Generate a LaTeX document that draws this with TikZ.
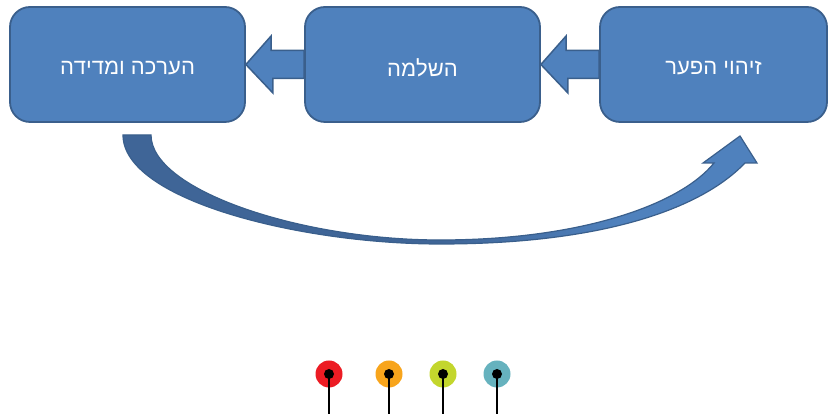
\documentclass[tikz,border=0pt]{standalone}
\usepackage{fontspec}
\setmainfont{Liberation Sans}
\TeXXeTstate=1
\usetikzlibrary{calc}
\definecolor{boxfill}{HTML}{4F81BD}
\definecolor{boxline}{HTML}{3A5F8C}
\definecolor{darkfill}{HTML}{3F6597}
\definecolor{dotred}{HTML}{EC1C24}
\definecolor{dotorange}{HTML}{F8A51C}
\definecolor{dotgreen}{HTML}{C3D62D}
\definecolor{dotteal}{HTML}{66B2BE}
\tikzset{
  stagebox/.style={draw=boxline, line width=1.8pt, fill=boxfill, rounded corners=20pt,
    minimum height=115pt, inner sep=0pt},
  stagetext/.style={text=white, font=\fontsize{22}{26}\selectfont, inner sep=0pt},
  blockarrow/.style={draw=boxline, line width=1.5pt, fill=boxfill, line join=miter},
  dotring/.style={circle, minimum size=27pt, inner sep=0pt},
  dotcore/.style={circle, fill=black, minimum size=10pt, inner sep=0pt},
  stem/.style={line width=2.6pt, black}
}
\begin{document}
\begin{tikzpicture}[x=1pt,y=1pt]
\useasboundingbox (0,0) rectangle (828,414);
% boxes
\node[stagebox, minimum width=235pt] (eval) at (127.5,349.5) {};
\node[stagebox, minimum width=235pt] (compl) at (422.5,349.5) {};
\node[stagebox, minimum width=227pt] (gap) at (713.5,349.5) {};
\node[stagetext] (evalt) at ($(eval.center)+(0,-3)$) {\beginR הערכה ומדידה\endR};
\node[stagetext] (complt) at ($(compl.center)+(0,-3)$) {\beginR השלמה\endR};
\node[stagetext] (gapt) at ($(gap.center)+(0,-3)$) {\beginR זיהוי הפער\endR};
% block arrows
\draw[blockarrow] (compl.west) ++(0,14) -- ++(-33,0) -- ++(0,14.5) -- (eval.east) -- ++(27,-28.5)
  -- ++(0,14.5) -- ($(compl.west)+(0,-14)$) -- cycle;
\draw[blockarrow] (gap.west) ++(0,14) -- ++(-33,0) -- ++(0,14.5) -- (compl.east) -- ++(27,-28.5)
  -- ++(0,14.5) -- ($(gap.west)+(0,-14)$) -- cycle;
% curved arrow
\coordinate (cs1) at (123,279);
\coordinate (cs2) at (151,279);
\coordinate (hb1) at (745,251);
\coordinate (hw1) at (757,251);
\coordinate (tip) at (740,278);
\coordinate (hw2) at (703,251);
\coordinate (hb2) at (714,251);
\def\curvepath{(cs1) .. controls (123,214) and (300,170) .. (440,170)
  .. controls (600,170) and (700,204) .. (hb1) -- (hw1) -- (tip) -- (hw2) -- (hb2)
  .. controls (680,209) and (580,174) .. (440,174)
  .. controls (300,174) and (151,224) .. (cs2) -- cycle}
\begin{scope}
  \clip \curvepath;
  \fill[darkfill] (100,150) rectangle (440,290);
  \shade[left color=darkfill, right color=boxfill] (440,150) rectangle (620,290);
  \fill[boxfill] (620,150) rectangle (780,290);
\end{scope}
\draw[draw=boxline, line width=1.2pt, line join=miter] \curvepath;
% dots
\foreach \n/\x/\c in {r/329/dotred, o/389/dotorange, g/443/dotgreen, t/497/dotteal}{
  \node[dotring, fill=\c] (ring\n) at (\x,40) {};
  \coordinate (foot\n) at (\x,0);
  \draw[stem] (ring\n.center) -- (foot\n);
  \node[dotcore] (core\n) at (ring\n.center) {};
}
\end{tikzpicture}
\end{document}
